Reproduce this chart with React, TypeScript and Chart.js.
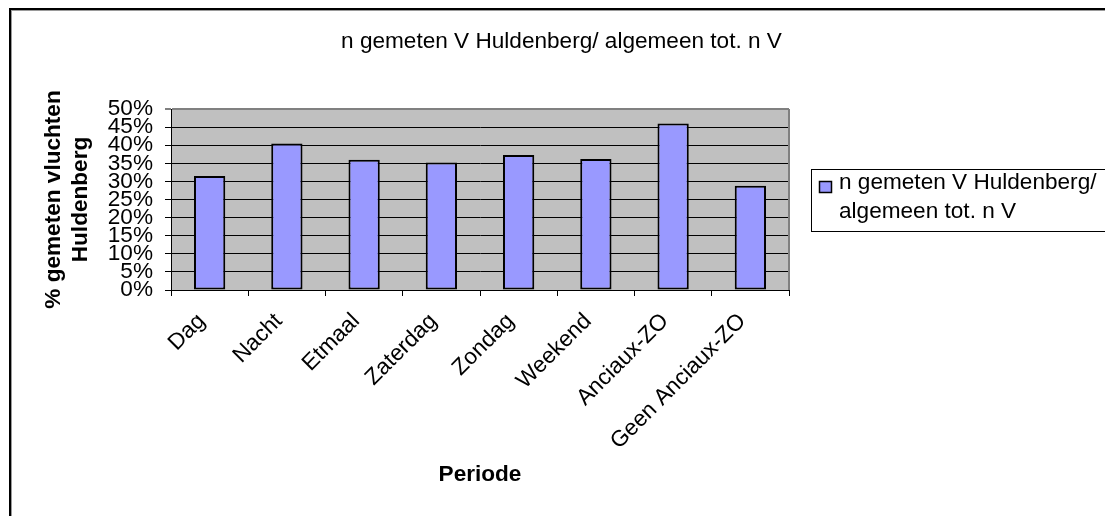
import React, { useEffect, useRef } from "react";
import { Chart, registerables } from "chart.js";

Chart.register(...registerables);

const categories = ["Dag", "Nacht", "Etmaal", "Zaterdag", "Zondag", "Weekend", "Anciaux-ZO", "Geen Anciaux-ZO"];
const values = [0.315, 0.405, 0.36, 0.352, 0.373, 0.362, 0.46, 0.288];
const seriesName = "n gemeten V Huldenberg/ algemeen tot. n V";
const legendLines = ["n gemeten V Huldenberg/", "algemeen tot. n V"];
const chartTitle = "n gemeten V Huldenberg/ algemeen tot. n V";
const yTitle = ["% gemeten vluchten", "Huldenberg"];
const xTitle = "Periode";
const yMin = 0;
const yMax = 0.5;
const yStep = 0.05;

const FONT = '"Liberation Sans", Arial, sans-serif';
const FS = 22.6;

const decorPlugin = {
  id: "decor",
  beforeDraw(chart: any) {
    const { ctx, chartArea: a, width, height } = chart;
    ctx.save();
    ctx.fillStyle = "#ffffff";
    ctx.fillRect(0, 0, width, height);
    ctx.fillStyle = "#C0C0C0";
    ctx.fillRect(a.left, a.top, a.right - a.left, a.bottom - a.top);
    ctx.restore();
  },
  afterDraw(chart: any) {
    const { ctx, chartArea: a, width, height } = chart;
    ctx.save();
    ctx.fillStyle = "#808080";
    ctx.fillRect(a.right - 1, a.top, 2, a.bottom - a.top);
    ctx.fillStyle = "#000000";
    ctx.fillRect(1, 0, 2, height);
    ctx.fillRect(1, 0, width, 2);
    ctx.fillStyle = "#9a9a9a";
    ctx.fillRect(3, 2, 1, height);
    ctx.fillRect(3, 2, width, 1);
    ctx.fillStyle = "#000";
    ctx.font = `${FS}px ${FONT}`;
    ctx.textAlign = "center";
    ctx.textBaseline = "alphabetic";
    ctx.fillText(chartTitle, 553.5, 40);
    ctx.fillStyle = "#fff";
    ctx.fillRect(803.5, 161.5, 400, 62);
    ctx.strokeStyle = "#000";
    ctx.lineWidth = 1;
    ctx.strokeRect(803.5, 161.5, 400, 62);
    ctx.fillStyle = "#9999FF";
    ctx.fillRect(811.5, 173.5, 12, 11);
    ctx.lineWidth = 1.5;
    ctx.strokeRect(811.5, 173.5, 12, 11);
    ctx.fillStyle = "#000";
    ctx.textAlign = "left";
    ctx.fillText(legendLines[0], 831, 181);
    ctx.fillText(legendLines[1], 831, 210);
    ctx.restore();
  },
};

export default function App() {
  const ref = useRef<HTMLCanvasElement | null>(null);
  useEffect(() => {
    if (!ref.current) return;
    Chart.defaults.font.family = FONT;
    Chart.defaults.color = "#000";
    const chart = new Chart(ref.current, {
      type: "bar",
      data: {
        labels: categories,
        datasets: [
          {
            label: seriesName,
            data: values,
            backgroundColor: "#9999FF",
            borderColor: "#000000",
            borderWidth: 2,
            borderSkipped: false,
            barPercentage: 0.405,
            categoryPercentage: 1,
          },
        ],
      },
      options: {
        animation: false,
        responsive: false,
        events: [],
        layout: { padding: { left: 0, right: 316, top: 101, bottom: 0 } },
        plugins: {
          legend: { display: false },
          title: { display: false },
          tooltip: { enabled: false },
        },
        scales: {
          x: {
            grid: {
              offset: true,
              drawOnChartArea: false,
              drawTicks: true,
              tickLength: 6,
              color: "#000",
            },
            border: { color: "#000", width: 1 },
            ticks: {
              autoSkip: false,
              maxRotation: 45,
              minRotation: 45,
              padding: 12,
              labelOffset: -8,
              color: "#000",
              font: { size: FS, family: FONT },
            },
            title: {
              display: true,
              text: xTitle,
              color: "#000",
              font: { size: FS, weight: "bold", family: FONT },
              padding: { top: 0, bottom: 28 },
            },
            afterFit(scale: any) {
              scale.height = 226;
            },
          },
          y: {
            min: yMin,
            max: yMax,
            grid: {
              color: (c: any) => (c.tick && Math.abs(c.tick.value - yMax) < 1e-9 ? "#808080" : "#000"),
              lineWidth: (c: any) => (c.tick && Math.abs(c.tick.value - yMax) < 1e-9 ? 2 : 1),
              tickLength: 6,
              drawTicks: true,
            },
            border: { color: "#000", width: 1 },
            ticks: {
              stepSize: yStep,
              autoSkip: false,
              padding: 12,
              color: "#000",
              font: { size: FS, family: FONT },
              callback: (v: any) => `${Math.round(Number(v) * 100)}%`,
            },
            title: {
              display: true,
              text: yTitle,
              color: "#000",
              font: { size: FS, weight: "bold", family: FONT },
              padding: { top: 32, bottom: 0 },
            },
            afterFit(scale: any) {
              scale.width = 163;
            },
          },
        },
      },
      plugins: [decorPlugin],
    });
    return () => chart.destroy();
  }, []);
  return (
    <div style={{ position: "fixed", left: 8, top: 8, width: 1097, height: 508 }}>
      <canvas ref={ref} width={1097} height={508} style={{ display: "block", width: 1097, height: 508 }} />
    </div>
  );
}
